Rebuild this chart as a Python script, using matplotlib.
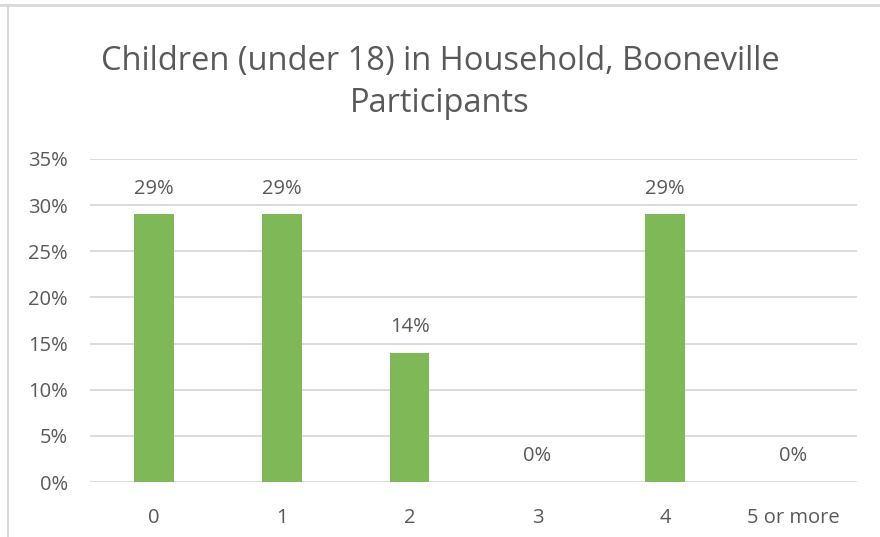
import matplotlib

matplotlib.use("Agg")

import matplotlib.pyplot as plt
import numpy as np
from matplotlib.lines import Line2D

plt.rcParams["font.family"] = ["Open Sans", "DejaVu Sans"]

categories = ["0", "1", "2", "3", "4", "5 or more"]
shares = [0.29, 0.29, 0.14, 0.0, 0.29, 0.0]
y_ticks = [0.0, 0.05, 0.10, 0.15, 0.20, 0.25, 0.30, 0.35]

TEXT = "#595959"
GRID = "#d9d9d9"
BAR = "#7fb857"

fig = plt.figure(figsize=(8.8, 5.37), dpi=100)
ax = fig.add_axes([0.1023, 0.1024, 0.8716, 0.6016])

x = np.arange(len(categories))
ax.bar(x, shares, width=0.31, color=BAR, zorder=2)

for xi, v in zip(x, shares):
    ax.annotate(f"{v:.0%}", xy=(xi, v), xytext=(0, 18.5), textcoords="offset points",
                ha="center", va="center", fontsize=14.5, color=TEXT)

ax.set_xlim(-0.5, len(categories) - 0.5)
ax.set_ylim(0, 0.35)
ax.set_yticks(y_ticks)
ax.set_yticklabels([f"{t:.0%}" for t in y_ticks])
ax.set_xticks(x)
ax.set_xticklabels(categories)
ax.tick_params(axis="both", length=0, labelsize=14.5, labelcolor=TEXT)
ax.tick_params(axis="x", pad=19)
ax.tick_params(axis="y", pad=16)
ax.grid(axis="y", color=GRID, linewidth=1.3, zorder=0)
for s in ax.spines.values():
    s.set_visible(False)

fig.text(0.5, 0.847, "Children (under 18) in Household, Booneville\nParticipants",
         ha="center", va="center", fontsize=23.5, color=TEXT, linespacing=1.36)

# chart frame edges
fig.add_artist(Line2D([0, 1], [0.991, 0.991], color="#d9d9d9", linewidth=2,
                      transform=fig.transFigure))
fig.add_artist(Line2D([0.0095, 0.0095], [0, 0.991], color="#d9d9d9", linewidth=1.5,
                      transform=fig.transFigure))

fig.savefig("out.png", dpi=100)
